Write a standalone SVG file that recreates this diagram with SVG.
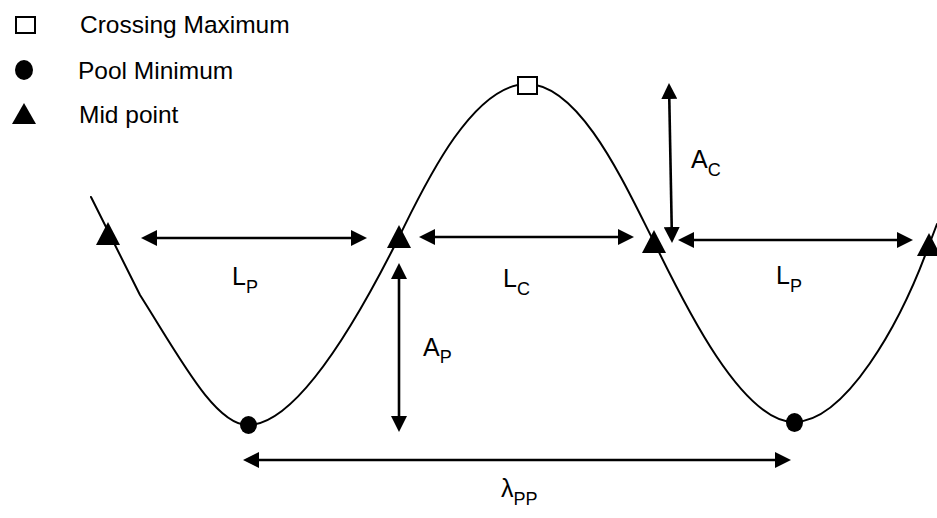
<svg xmlns="http://www.w3.org/2000/svg" width="937" height="518" viewBox="0 0 937 518">
<style>
text{font-family:"Liberation Sans",Arial,sans-serif;fill:#000}
.lg{font-size:24.5px}
.lb{font-size:25px}
.sub{font-size:18px}
.curve{fill:none;stroke:#000;stroke-width:2;stroke-linejoin:round;stroke-linecap:round}
.arr{fill:none;stroke:#000;stroke-width:2.6;marker-start:url(#ah);marker-end:url(#ah)}
.tri{fill:#000}
.dot{fill:#000}
.sq{fill:#fff;stroke:#000;stroke-width:2}
</style>
<defs>
<marker id="ah" viewBox="0 0 16 16" refX="10" refY="8" markerWidth="16" markerHeight="16" markerUnits="userSpaceOnUse" orient="auto-start-reverse">
<path d="M0,0 L16,8 L0,16 Z" fill="#000"/>
</marker>
</defs>
<rect width="937" height="518" fill="#fff"/>
<g id="legend">
<g id="legend-crossing"><rect class="sq" x="16" y="17" width="19" height="16"/><text class="lg" x="80" y="33">Crossing Maximum</text></g>
<g id="legend-pool"><ellipse class="dot" cx="24" cy="70" rx="9" ry="10"/><text class="lg" x="78" y="79">Pool Minimum</text></g>
<g id="legend-mid"><polygon class="tri" points="24,103 12,124 36,124"/><text class="lg" x="79" y="123">Mid point</text></g>
</g>
<g id="channel">
<path class="curve" d="M91,197 L140,295 C180,358 215,425 248,425 C300,425 365,305 399,237 C420,195 470,84 527,84 C580,84 625,185 653,240 C680,295 740,422 794,422 C845,422 900,325 929,245 L937,224"/>
</g>
<g id="connectors">
<line class="arr" x1="147" y1="238" x2="361" y2="238"/>
<line class="arr" x1="425" y1="237" x2="628" y2="237"/>
<line class="arr" x1="684" y1="240" x2="907" y2="240"/>
<line class="arr" x1="669.1" y1="89" x2="671.9" y2="237"/>
<line class="arr" x1="399" y1="269" x2="399" y2="426"/>
<line class="arr" x1="249" y1="460" x2="785" y2="460"/>
</g>
<g id="mid1"><polygon class="tri" points="108,222 96,245 120,245"/></g>
<g id="mid2"><polygon class="tri" points="399,225 387,248 411,248"/></g>
<g id="mid3"><polygon class="tri" points="654,230 642,253 666,253"/></g>
<g id="mid4"><polygon class="tri" points="929,233 917,256 941,256"/></g>
<g id="pool1"><ellipse class="dot" cx="248.5" cy="425" rx="8.5" ry="9"/></g>
<g id="pool2"><ellipse class="dot" cx="794.5" cy="422.5" rx="8.5" ry="9.5"/></g>
<g id="crossing"><rect class="sq" x="518" y="77" width="19" height="17"/></g>
<g id="labels">
<g id="label-lp1"><text class="lb" x="232" y="285">L<tspan class="sub" dy="8">P</tspan></text></g>
<g id="label-lc"><text class="lb" x="503" y="287">L<tspan class="sub" dy="8">C</tspan></text></g>
<g id="label-lp2"><text class="lb" x="776" y="284">L<tspan class="sub" dy="8">P</tspan></text></g>
<g id="label-ac"><text class="lb" x="691" y="168">A<tspan class="sub" dy="8">C</tspan></text></g>
<g id="label-ap"><text class="lb" x="423" y="356">A<tspan class="sub" dy="7">P</tspan></text></g>
<g id="label-lpp"><text class="lb" x="501" y="497">λ<tspan class="sub" dy="8">PP</tspan></text></g>
</g>
</svg>
